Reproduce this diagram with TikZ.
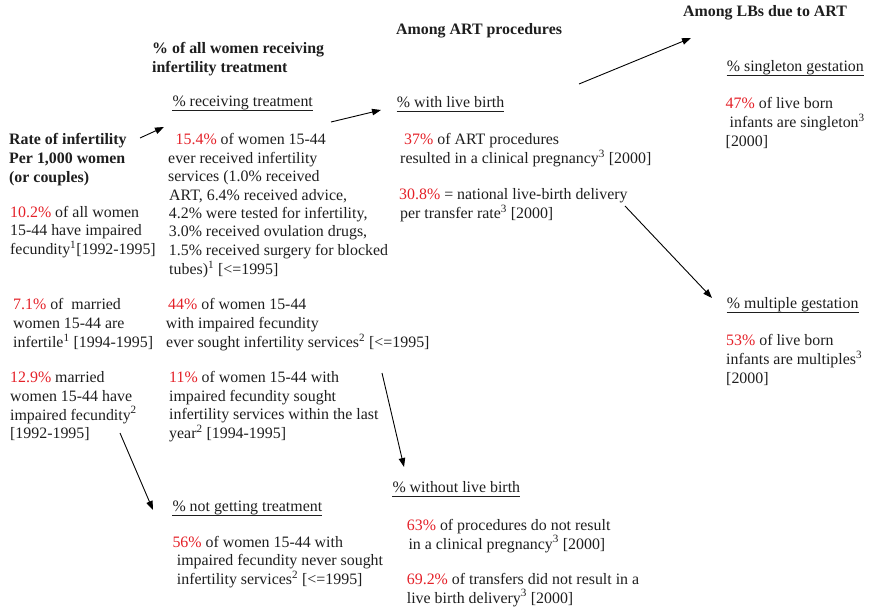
\documentclass[tikz,border=0pt]{standalone}
\usepackage{fontspec}
\setmainfont{Liberation Serif}
\usetikzlibrary{arrows.meta}
\definecolor{pctred}{RGB}{228,32,40}
\definecolor{textc}{RGB}{30,30,30}
\newcommand\R[1]{\textcolor{pctred}{#1}}
\newcommand\sps[1]{\textsuperscript{#1}}
\newcommand\blk[1]{\begin{tabular}[t]{@{}l@{}}#1\end{tabular}}
\tikzset{
  txt/.style={anchor=base west, inner sep=0pt, text=textc, font=\fontsize{15.9}{18.4}\selectfont},
  btxt/.style={txt, font=\fontsize{15.9}{18.6}\selectfont\bfseries},
  rtxt/.style={txt, font=\fontsize{15.9}{19}\selectfont\bfseries},
  head/.style={txt},
  uline/.style={draw=textc, line width=1.1pt},
  arr/.style={draw=black, line width=0.9pt, -{Triangle[length=9pt,width=6.5pt]}},
}
\begin{document}
\begin{tikzpicture}[x=1pt,y=-1pt]
\useasboundingbox (0,0) rectangle (872,609);
% bold titles
\node[btxt] (t1) at (152,54) {\blk{\% of all women receiving\\ infertility treatment}};
\node[btxt] (t2) at (396,34.3) {Among ART procedures};
\node[btxt] (t3) at (683,17) {Among LBs due to ART};
\node[rtxt] (rate) at (9,144.3) {\blk{Rate of infertility\\ Per 1,000 women\\ (or couples)}};
% underlined headings
\node[head] (hrecv) at (172.3,106.7) {\% receiving treatment};
\node[head] (hlive) at (396.7,107.7) {\% with live birth};
\node[head] (hsing) at (726.7,71.7) {\% singleton gestation};
\node[head] (hmult) at (726.7,308.5) {\% multiple gestation};
\node[head] (hnot) at (172.3,511.7) {\% not getting treatment};
\node[head] (hwo) at (392.3,492.7) {\% without live birth\ };
\foreach \n in {hrecv,hlive,hsing,hmult,hnot,hwo}
  \draw[uline] ([yshift=-3.6pt]\n.base west) -- ([yshift=-3.6pt]\n.base east);
% left column
\node[txt] (l1) at (10,217.3) {\blk{\R{10.2\%} of all women\\ 15-44 have impaired\\ fecundity\sps{1}[1992-1995]}};
\node[txt] (l2) at (13,310) {\blk{\R{7.1\%} of\ \ married\\ women 15-44 are\\ infertile\sps{1} [1994-1995]}};
\node[txt] (l3) at (10,382.7) {\blk{\R{12.9\%} married\\ women 15-44 have\\ impaired fecundity\sps{2}\\{}[1992-1995]}};
% middle column
\node[txt] (m1) at (168,145) {\blk{\hspace*{7.5pt}\R{15.4\%} of women 15-44\\ ever received infertility\\ services (1.0\% received\\ \hspace*{1pt}ART, 6.4\% received advice,\\ \hspace*{0.7pt}4.2\% were tested for infertility,\\ \hspace*{0.7pt}3.0\% received ovulation drugs,\\ \hspace*{0.7pt}1.5\% received surgery for blocked\\ \hspace*{1pt}tubes)\sps{1} [<=1995]}};
\node[txt] (m2) at (165.7,310) {\blk{\hspace*{2.3pt}\R{44\%} of women 15-44\\ with impaired fecundity\\ \hspace*{0.3pt}ever sought infertility services\sps{2} [<=1995]}};
\node[txt] (m3) at (169,382.7) {\blk{\R{11\%} of women 15-44 with\\ impaired fecundity sought\\ infertility services within the last\\ year\sps{2} [1994-1995]}};
\node[txt] (m4) at (172.3,547.3) {\blk{\R{56\%} of women 15-44 with\\ \hspace*{4.4pt}impaired fecundity never sought\\ \hspace*{4.4pt}infertility services\sps{2} [<=1995]}};
% ART column
\node[txt] (a1) at (400,144.3) {\blk{\hspace*{4pt}\R{37\%} of ART procedures\\ resulted in a clinical pregnancy\sps{3} [2000]}};
\node[txt] (a2) at (399,199.3) {\blk{\R{30.8\%} = national live-birth delivery\\ \hspace*{1pt}per transfer rate\sps{3} [2000]}};
\node[txt] (a3) at (406.7,530) {\blk{\R{63\%} of procedures do not result\\ \hspace*{1.6pt}in a clinical pregnancy\sps{3} [2000]}};
\node[txt] (a4) at (406.7,584) {\blk{\R{69.2\%} of transfers did not result in a\\ live birth delivery\sps{3} [2000]}};
% right column
\node[txt] (r1) at (725.5,108.7) {\blk{\R{47\%} of live born\\ \hspace*{4pt}infants are singleton\sps{3}\\{}[2000]}};
\node[txt] (r2) at (726,345.7) {\blk{\R{53\%} of live born\\ infants are multiples\sps{3}\\{}[2000]}};
% connector end points
\coordinate (c1s) at (140,138);   \coordinate (c1e) at (164,127);
\coordinate (c2s) at (331,122);   \coordinate (c2e) at (381,110);
\coordinate (c3s) at (579,84);    \coordinate (c3e) at (691,38);
\coordinate (c4s) at (625,206);   \coordinate (c4e) at (712,298);
\coordinate (c5s) at (382,373);   \coordinate (c5e) at (404,467);
\coordinate (c6s) at (120,433);   \coordinate (c6e) at (153,510);
\draw[arr] (c1s) -- (c1e);
\draw[arr] (c2s) -- (c2e);
\draw[arr] (c3s) -- (c3e);
\draw[arr] (c4s) -- (c4e);
\draw[arr] (c5s) -- (c5e);
\draw[arr] (c6s) -- (c6e);
\end{tikzpicture}
\end{document}
